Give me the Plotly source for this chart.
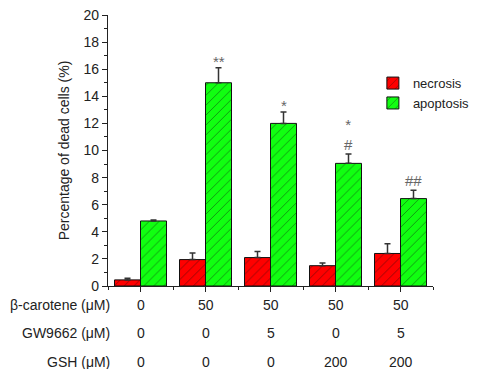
import plotly.graph_objects as go

groups = [0, 1, 2, 3, 4]
necrosis = [0.45, 1.95, 2.1, 1.5, 2.4]
necrosis_err = [0.12, 0.48, 0.45, 0.2, 0.72]
apoptosis = [4.8, 15.0, 12.0, 9.05, 6.45]
apoptosis_err = [0.08, 1.1, 0.85, 0.7, 0.62]
# significance marks above the apoptosis bars
sig_labels = ["", "**", "*", "*<br>#", "##"]

row_names = ["β-carotene (μM)", "GW9662 (μM)", "GSH (μM)"]
beta_carotene = ["0", "50", "50", "50", "50"]
gw9662 = ["0", "0", "5", "0", "5"]
gsh = ["0", "0", "0", "200", "200"]
rows = [beta_carotene, gw9662, gsh]

FONT = "Liberation Sans, Arial, sans-serif"

fig = go.Figure()
fig.add_trace(go.Bar(
    x=groups, y=necrosis, name="necrosis",
    marker=dict(color="#ff0000", line=dict(color="#111", width=1),
                pattern=dict(shape="/", fgcolor="#111", size=7, solidity=0.12)),
    error_y=dict(type="data", array=necrosis_err, arrayminus=[0]*5, symmetric=False,
                 color="#333", thickness=1.5, width=3),
))
fig.add_trace(go.Bar(
    x=groups, y=apoptosis, name="apoptosis",
    marker=dict(color="#11ff11", line=dict(color="#111", width=1),
                pattern=dict(shape="/", fgcolor="#111", size=7, solidity=0.12)),
    error_y=dict(type="data", array=apoptosis_err, arrayminus=[0]*5, symmetric=False,
                 color="#333", thickness=1.5, width=3),
))

annotations = []
for g, lab, v, e in zip(groups, sig_labels, apoptosis, apoptosis_err):
    if lab:
        annotations.append(dict(x=g + 0.2, y=v + e, xref="x", yref="y", text=lab,
                                showarrow=False, yanchor="bottom",
                                yshift=-1 if lab.endswith("#") else -4,
                                font=dict(family=FONT, size=15, color="#666")))

row_y = [-0.07, -0.173, -0.28]
for name, vals, ry in zip(row_names, rows, row_y):
    annotations.append(dict(x=0, y=ry, xref="paper", yref="paper", text=name,
                            showarrow=False, xanchor="right", yanchor="middle", xshift=4,
                            font=dict(family=FONT, size=14, color="#222")))
    for g, v in zip(groups, vals):
        annotations.append(dict(x=g, y=ry, xref="x", yref="paper", text=v,
                                showarrow=False, xanchor="center", yanchor="middle",
                                font=dict(family=FONT, size=14, color="#222")))

# page adds an 8px body margin on every side: size the figure so the page is 490x377
fig.update_layout(
    width=474, height=361,
    margin=dict(l=100, r=42, t=7, b=83),
    plot_bgcolor="white", paper_bgcolor="white",
    barmode="group", bargap=0.2, bargroupgap=0,
    font=dict(family=FONT, size=13, color="#222"),
    showlegend=True,
    legend=dict(x=0.815, y=0.804, xanchor="left", yanchor="top",
                font=dict(family=FONT, size=13, color="#222"),
                bgcolor="rgba(0,0,0,0)", tracegroupgap=0),
    annotations=annotations,
    xaxis=dict(range=[-0.5, 4.5], tickvals=groups, ticktext=[""]*5, automargin=False,
               showline=True, linecolor="#222", linewidth=1.2,
               ticks="outside", ticklen=5, tickcolor="#222",
               minor=dict(tick0=0.5, dtick=1, ticks="outside", ticklen=3, tickcolor="#222"),
               showgrid=False, zeroline=False),
    yaxis=dict(range=[0, 20], dtick=2, showline=True, linecolor="#222", linewidth=1.2,
               automargin=False, ticklabeloverflow="allow",
               ticks="outside", ticklen=5, tickcolor="#222",
               minor=dict(dtick=1, ticks="outside", ticklen=3, tickcolor="#222"),
               showgrid=False, zeroline=False,
               tickfont=dict(family=FONT, size=14, color="#222"),
               title=dict(text="Percentage of dead cells (%)", standoff=10,
                          font=dict(family=FONT, size=14, color="#222"))),
)

fig.write_html("out.html")
